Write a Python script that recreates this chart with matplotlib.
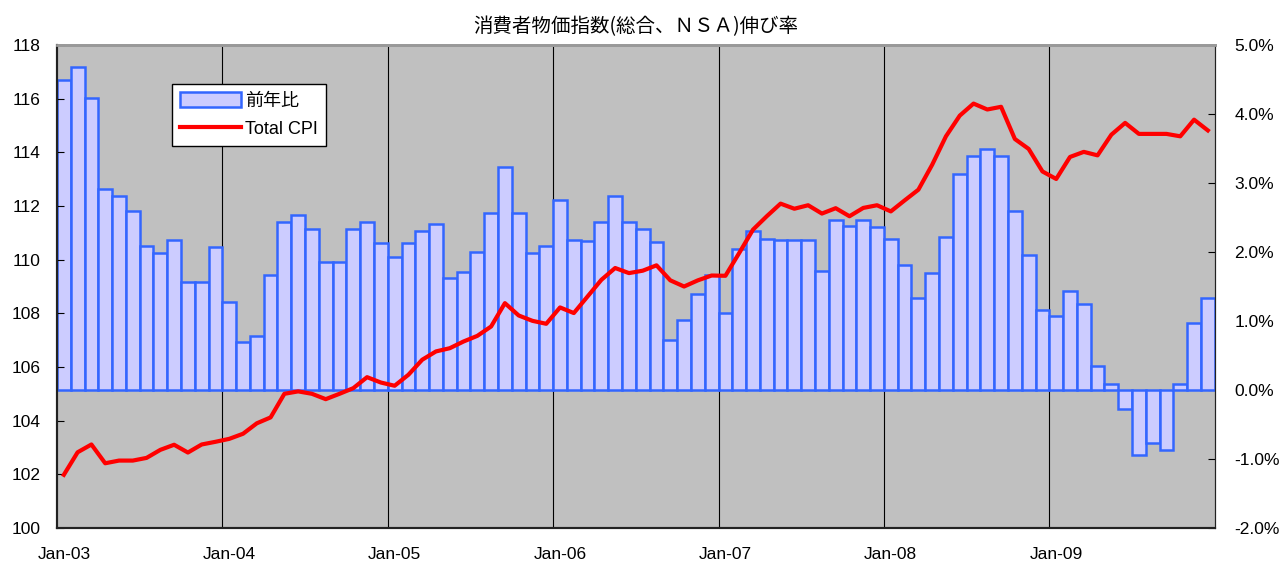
import matplotlib
matplotlib.use("Agg")
import matplotlib.pyplot as plt
import matplotlib.patches as mpatches
from matplotlib.lines import Line2D

plt.rcParams["font.family"] = ["Liberation Sans", "Noto Sans CJK JP"]

# Datos mensuales: enero 2003 a diciembre 2009
meses = [f"{m}-{a:02d}" for a in range(3, 10) for m in
         ["Jan", "Feb", "Mar", "Apr", "May", "Jun",
          "Jul", "Aug", "Sep", "Oct", "Nov", "Dec"]]

# Variación interanual (%), eje derecho
variacion = [
    4.50, 4.68, 4.24, 2.91, 2.81, 2.60, 2.09, 1.98, 2.17, 1.57, 1.57, 2.08,
    1.28, 0.69, 0.78, 1.66, 2.44, 2.54, 2.34, 1.85, 1.85, 2.33, 2.43, 2.13,
    1.93, 2.13, 2.31, 2.41, 1.62, 1.71, 2.00, 2.57, 3.23, 2.57, 1.99, 2.09,
    2.75, 2.17, 2.16, 2.43, 2.81, 2.43, 2.33, 2.14, 0.73, 1.01, 1.39, 1.67,
    1.11, 2.04, 2.30, 2.19, 2.18, 2.18, 2.18, 1.73, 2.46, 2.38, 2.46, 2.37,
    2.19, 1.81, 1.34, 1.70, 2.22, 3.13, 3.39, 3.49, 3.39, 2.59, 1.96, 1.16,
    1.07, 1.43, 1.24, 0.35, 0.09, -0.27, -0.95, -0.77, -0.87, 0.09, 0.97, 1.33,
]

# Índice total CPI, eje izquierdo
indice = [
    101.98, 102.82, 103.11, 102.41, 102.51, 102.51, 102.61, 102.91, 103.10, 102.81, 103.11, 103.21,
    103.32, 103.51, 103.90, 104.12, 105.00, 105.09, 105.00, 104.80, 105.00, 105.21, 105.62, 105.42,
    105.30, 105.71, 106.27, 106.58, 106.70, 106.95, 107.16, 107.51, 108.38, 107.92, 107.72, 107.61,
    108.22, 108.01, 108.63, 109.25, 109.69, 109.50, 109.59, 109.79, 109.23, 109.00, 109.23, 109.41,
    109.40, 110.25, 111.12, 111.62, 112.09, 111.90, 112.03, 111.72, 111.92, 111.62, 111.93, 112.03,
    111.80, 112.21, 112.61, 113.54, 114.60, 115.37, 115.82, 115.60, 115.70, 114.50, 114.13, 113.29,
    113.01, 113.83, 114.02, 113.89, 114.66, 115.10, 114.69, 114.69, 114.69, 114.60, 115.22, 114.82,
]

ticks_izq = list(range(100, 119, 2))
ticks_der = [-2, -1, 0, 1, 2, 3, 4, 5]

x = list(range(len(meses)))

fig = plt.figure(figsize=(12.8, 5.64), dpi=100)
fig.patch.set_facecolor("white")
ax = fig.add_axes([0.0445, 0.064, 0.9045, 0.856])
ax.set_facecolor("#C0C0C0")
ax2 = ax.twinx()

# Barras de variación (eje de porcentajes a la derecha)
ax.bar(x, variacion, width=1.0, color="#CCCCFF", edgecolor="#3366FF",
       linewidth=1.8, zorder=2)
ax.set_ylim(-2, 5)
ax.set_xlim(-0.5, len(meses) - 0.5)
ax.yaxis.tick_right()
ax.set_yticks(ticks_der)
ax.set_yticklabels([f"{v:.1f}%" for v in ticks_der])
ax.tick_params(axis="y", direction="in", length=5, labelsize=12.5, pad=14)

# Líneas verticales en cada cambio de año
for k in range(12, len(meses), 12):
    ax.axvline(k - 0.5, color="black", linewidth=0.8, zorder=1)

ax.set_xticks(x[::12])
ax.set_xticklabels(meses[::12], fontsize=12.5)
ax.tick_params(axis="x", length=0, pad=14)

# Índice total (eje izquierdo, encima de las barras)
ax2.plot(x, indice, color="#FF0000", linewidth=3.0, zorder=3)
ax2.set_ylim(100, 118)
ax2.yaxis.tick_left()
ax2.set_yticks(ticks_izq)
ax2.tick_params(axis="y", direction="in", length=5, labelsize=12.5, pad=12)

for a in (ax, ax2):
    a.spines["left"].set_color("#222222")
    a.spines["bottom"].set_color("#222222")
    a.spines["right"].set_color("#222222")
    a.spines["top"].set_color("#999999")
    a.spines["top"].set_linewidth(2)
    a.spines["left"].set_linewidth(1.5)
    a.spines["bottom"].set_linewidth(1.5)

ax.set_title("消費者物価指数(総合、ＮＳＡ)伸び率",
             family=["Noto Sans CJK JP"], fontsize=14, pad=9)

# Leyenda
h_barra = mpatches.Patch(facecolor="#CCCCFF", edgecolor="#3366FF", linewidth=1.8)
h_linea = Line2D([0], [0], color="#FF0000", linewidth=3.0)
ley = ax2.legend([h_barra, h_linea], ["前年比", "Total CPI"],
                 loc="upper left", bbox_to_anchor=(0.099, 0.92),
                 fontsize=13, fancybox=False, framealpha=1,
                 edgecolor="black", handlelength=3.4, handleheight=0.9,
                 borderpad=0.45, labelspacing=0.6, handletextpad=0.2,
                 borderaxespad=0)
ley.get_frame().set_linewidth(1.0)

plt.savefig("out.png", dpi=100, facecolor=fig.get_facecolor())
